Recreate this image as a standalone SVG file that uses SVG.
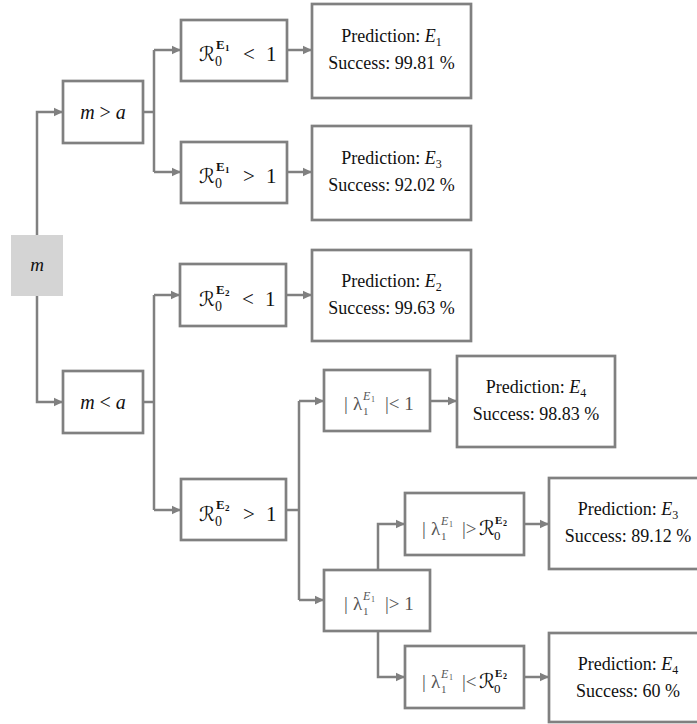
<svg xmlns="http://www.w3.org/2000/svg" width="697" height="724" viewBox="0 0 697 724">
<defs>
<marker id="ah" markerUnits="userSpaceOnUse" markerWidth="10" markerHeight="10" refX="9" refY="5" orient="auto"><path d="M0,0.8 L9,5 L0,9.2 z" fill="#808080"/></marker>
<style>
.box{fill:#fff;stroke:#808080;stroke-width:2.7}
.con{fill:none;stroke:#808080;stroke-width:2.5;marker-end:url(#ah)}
.lin{fill:none;stroke:#808080;stroke-width:2.5}
text{font-family:"Liberation Serif","DejaVu Serif",serif;fill:#111}
.pred{font-size:18px;text-anchor:middle}
.it{font-style:italic}
.cal{font-family:"DejaVu Serif","DejaVu Sans",serif;font-size:20px}
.lam{fill:#555}
</style>
</defs>
<rect width="697" height="724" fill="#fff"/>
<g id="connectors">
<path class="con" d="M37,235 V112 H63"/>
<path class="con" d="M37,296 V402 H63"/>
<path class="lin" d="M143,112 H154 M154,50 V172"/>
<path class="con" d="M154,50 H181"/>
<path class="con" d="M154,172 H181"/>
<path class="con" d="M287,50 H312"/>
<path class="con" d="M287,172 H312"/>
<path class="lin" d="M143,402 H154 M154,295 V510"/>
<path class="con" d="M154,295 H180"/>
<path class="con" d="M154,510 H181"/>
<path class="con" d="M286,295 H312"/>
<path class="lin" d="M286,510 H299 M299,401 V600"/>
<path class="con" d="M299,401 H324"/>
<path class="con" d="M299,600 H324"/>
<path class="con" d="M430,401 H457"/>
<path class="con" d="M378,570 V524 H405"/>
<path class="con" d="M378,631 V677 H405"/>
<path class="con" d="M524,524 H549"/>
<path class="con" d="M524,677 H549"/>
</g>
<g id="n-m">
<rect x="11" y="235" width="52" height="61" fill="#d4d4d4"/>
<text class="it" x="37" y="271" font-size="19" text-anchor="middle">m</text>
</g>
<g id="n-mgta">
<rect class="box" x="63" y="81" width="80" height="62"/>
<text x="103" y="119" font-size="20" text-anchor="middle"><tspan class="it">m</tspan> &gt; <tspan class="it">a</tspan></text>
</g>
<g id="n-mlta">
<rect class="box" x="63" y="371" width="80" height="62"/>
<text x="103" y="409" font-size="20" text-anchor="middle"><tspan class="it">m</tspan> &lt; <tspan class="it">a</tspan></text>
</g>
<g id="n-r1lt">
<rect class="box" x="181" y="20" width="106" height="61"/>
<text><tspan class="cal" x="199" y="61">ℛ</tspan><tspan x="215" y="66" font-size="14">0</tspan><tspan x="216" y="49" font-size="13" font-weight="bold">E</tspan><tspan x="225" y="51" font-size="9" font-weight="bold">1</tspan><tspan x="243" y="61" font-size="21">&lt;</tspan><tspan x="266" y="61" font-size="21">1</tspan></text>
</g>
<g id="n-r1gt">
<rect class="box" x="181" y="142" width="106" height="61"/>
<text><tspan class="cal" x="199" y="183">ℛ</tspan><tspan x="215" y="188" font-size="14">0</tspan><tspan x="216" y="171" font-size="13" font-weight="bold">E</tspan><tspan x="225" y="173" font-size="9" font-weight="bold">1</tspan><tspan x="243" y="183" font-size="21">&gt;</tspan><tspan x="266" y="183" font-size="21">1</tspan></text>
</g>
<g id="n-r2lt">
<rect class="box" x="180" y="264" width="106" height="62"/>
<text><tspan class="cal" x="199" y="306">ℛ</tspan><tspan x="215" y="311" font-size="14">0</tspan><tspan x="216" y="294" font-size="13" font-weight="bold">E</tspan><tspan x="225" y="296" font-size="9" font-weight="bold">2</tspan><tspan x="242" y="306" font-size="21">&lt;</tspan><tspan x="265" y="306" font-size="21">1</tspan></text>
</g>
<g id="n-r2gt">
<rect class="box" x="181" y="479" width="105" height="61"/>
<text><tspan class="cal" x="199" y="521">ℛ</tspan><tspan x="215" y="526" font-size="14">0</tspan><tspan x="216" y="509" font-size="13" font-weight="bold">E</tspan><tspan x="225" y="511" font-size="9" font-weight="bold">2</tspan><tspan x="243" y="521" font-size="21">&gt;</tspan><tspan x="266" y="521" font-size="21">1</tspan></text>
</g>
<g id="n-lamlt1">
<rect class="box" x="324" y="370" width="106" height="61"/>
<text class="lam"><tspan x="344" y="410" font-size="19">|</tspan><tspan x="353" y="410" font-size="19">λ</tspan><tspan x="363" y="415" font-size="11">1</tspan><tspan class="it" x="363" y="400" font-size="12">E</tspan><tspan x="371" y="402" font-size="8">1</tspan><tspan x="385" y="410" font-size="19">|&lt; 1</tspan></text>
</g>
<g id="n-lamgt1">
<rect class="box" x="324" y="570" width="106" height="61"/>
<text class="lam"><tspan x="344" y="610" font-size="19">|</tspan><tspan x="353" y="610" font-size="19">λ</tspan><tspan x="363" y="615" font-size="11">1</tspan><tspan class="it" x="363" y="600" font-size="12">E</tspan><tspan x="371" y="602" font-size="8">1</tspan><tspan x="385" y="610" font-size="19">|&gt; 1</tspan></text>
</g>
<g id="n-lamgtR">
<rect class="box" x="405" y="493" width="119" height="62"/>
<text><tspan class="lam" x="422" y="535" font-size="19">|</tspan><tspan class="lam" x="431" y="535" font-size="19">λ</tspan><tspan class="lam" x="441" y="540" font-size="11">1</tspan><tspan class="lam it" x="441" y="525" font-size="12">E</tspan><tspan class="lam" x="449" y="527" font-size="8">1</tspan><tspan class="lam" x="462" y="535" font-size="19">|&gt;</tspan><tspan class="cal" x="479" y="535" font-size="18">ℛ</tspan><tspan x="494" y="540" font-size="13">0</tspan><tspan x="495" y="524" font-size="11" font-weight="bold">E</tspan><tspan x="503" y="526" font-size="8" font-weight="bold">2</tspan></text>
</g>
<g id="n-lamltR">
<rect class="box" x="405" y="646" width="119" height="62"/>
<text><tspan class="lam" x="422" y="688" font-size="19">|</tspan><tspan class="lam" x="431" y="688" font-size="19">λ</tspan><tspan class="lam" x="441" y="693" font-size="11">1</tspan><tspan class="lam it" x="441" y="678" font-size="12">E</tspan><tspan class="lam" x="449" y="680" font-size="8">1</tspan><tspan class="lam" x="462" y="688" font-size="19">|&lt;</tspan><tspan class="cal" x="479" y="688" font-size="18">ℛ</tspan><tspan x="494" y="693" font-size="13">0</tspan><tspan x="495" y="677" font-size="11" font-weight="bold">E</tspan><tspan x="503" y="679" font-size="8" font-weight="bold">2</tspan></text>
</g>
<g id="p1">
<rect class="box" x="312" y="4" width="159" height="94"/>
<text class="pred" x="391.5" y="42">Prediction: <tspan class="it">E</tspan><tspan font-size="12" dy="4">1</tspan></text>
<text class="pred" x="391.5" y="69">Success: 99.81 %</text>
</g>
<g id="p2">
<rect class="box" x="312" y="126" width="159" height="94"/>
<text class="pred" x="391.5" y="164">Prediction: <tspan class="it">E</tspan><tspan font-size="12" dy="4">3</tspan></text>
<text class="pred" x="391.5" y="191">Success: 92.02 %</text>
</g>
<g id="p3">
<rect class="box" x="312" y="250" width="159" height="91"/>
<text class="pred" x="391.5" y="287">Prediction: <tspan class="it">E</tspan><tspan font-size="12" dy="4">2</tspan></text>
<text class="pred" x="391.5" y="314">Success: 99.63 %</text>
</g>
<g id="p4">
<rect class="box" x="457" y="356" width="158" height="91"/>
<text class="pred" x="536" y="393">Prediction: <tspan class="it">E</tspan><tspan font-size="12" dy="4">4</tspan></text>
<text class="pred" x="536" y="420">Success: 98.83 %</text>
</g>
<g id="p5">
<rect class="box" x="549" y="478" width="160" height="91"/>
<text class="pred" x="628" y="515">Prediction: <tspan class="it">E</tspan><tspan font-size="12" dy="4">3</tspan></text>
<text class="pred" x="628" y="542">Success: 89.12 %</text>
</g>
<g id="p6">
<rect class="box" x="549" y="633" width="160" height="89"/>
<text class="pred" x="628" y="670">Prediction: <tspan class="it">E</tspan><tspan font-size="12" dy="4">4</tspan></text>
<text class="pred" x="628" y="697">Success: 60 %</text>
</g>
</svg>
